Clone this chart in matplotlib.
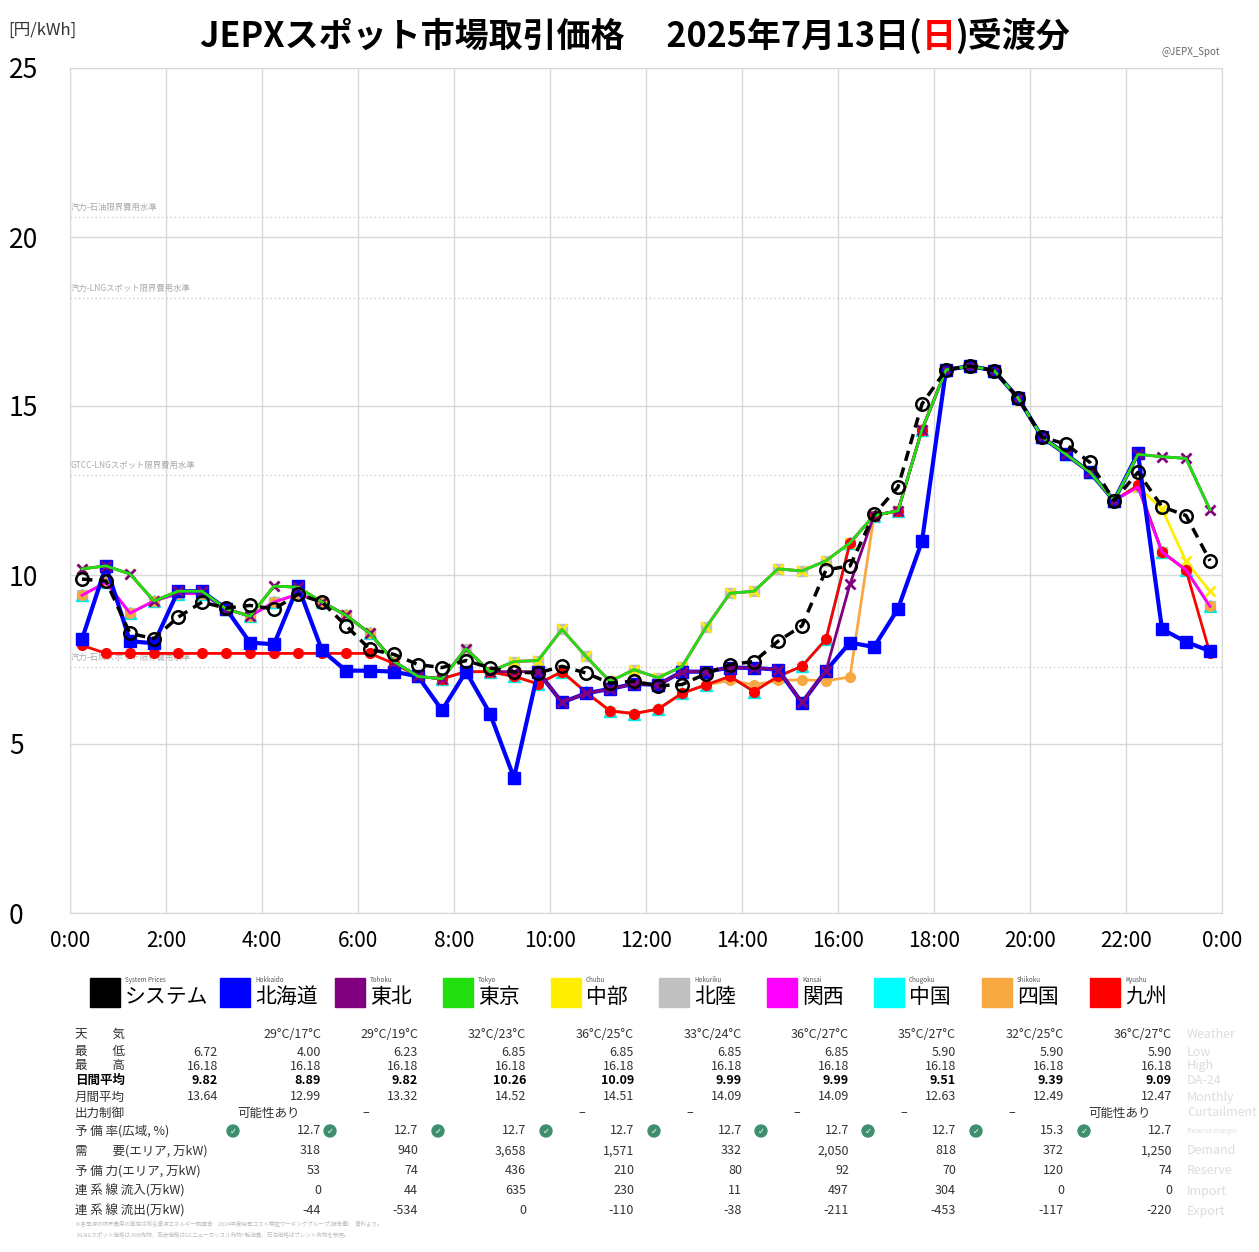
import matplotlib
matplotlib.use("Agg")
import matplotlib.pyplot as plt
from matplotlib.patches import Rectangle, Circle

JP = "Noto Sans CJK JP"
plt.rcParams["font.family"] = JP

hours = [(i + 0.5) / 2 for i in range(48)]

system = [9.88,9.82,8.27,8.12,8.75,9.20,9.02,9.10,8.99,9.43, 9.20,8.50,7.80,7.65,7.35,7.26,7.47,7.25,7.13,7.10,
          7.30,7.10,6.80,6.86,6.72,6.76,7.08,7.35,7.44,8.04, 8.50,10.15,10.27,11.79,12.60,15.06,16.07,16.18,16.05,15.24,
          14.08,13.87,13.33,12.20,13.04,12.02,11.76,10.42]
hokkaido = [8.10,10.27,8.04,7.98,9.52,9.52,9.00,8.00,7.95,9.67, 7.77,7.17,7.17,7.14,7.00,6.00,7.14,5.90,4.00,7.14,
            6.23,6.50,6.63,6.78,6.75,7.14,7.14,7.26,7.25,7.20, 6.22,7.17,8.00,7.87,9.00,11.00,16.07,16.18,16.05,15.24,
            14.08,13.57,13.04,12.20,13.60,8.40,8.02,7.75]
tohoku = [10.18,10.27,10.03,9.23,9.52,9.52,9.00,8.78,9.67,9.64, 9.20,8.81,8.27,7.44,7.00,6.93,7.82,7.14,7.14,7.14,
          6.23,6.50,6.63,6.78,6.75,7.14,7.14,7.26,7.25,7.20, 6.23,7.17,9.73,11.76,11.90,14.30,16.07,16.18,16.05,15.24,
          14.08,13.57,13.04,12.20,13.57,13.50,13.45,11.93]
tokyo = [10.18,10.27,10.03,9.23,9.52,9.52,9.00,8.78,9.67,9.64, 9.20,8.81,8.27,7.44,7.00,6.93,7.82,7.14,7.44,7.47,
         8.39,7.59,6.85,7.20,6.96,7.29,8.45,9.46,9.52,10.18, 10.12,10.42,10.95,11.76,11.90,14.30,16.07,16.18,16.05,15.24,
         14.08,13.57,13.04,12.20,13.57,13.50,13.45,11.93]
chubu = [10.18,10.27,10.03,9.23,9.52,9.52,9.00,8.78,9.67,9.64, 9.20,8.81,8.27,7.44,7.00,6.93,7.82,7.14,7.44,7.47,
         8.39,7.59,6.85,7.20,6.96,7.29,8.45,9.46,9.52,10.18, 10.12,10.42,10.95,11.76,11.90,14.30,16.07,16.18,16.05,15.24,
         14.08,13.57,13.04,12.20,12.60,11.96,10.40,9.52]
hokuriku = [9.40,9.78,8.87,9.23,9.45,9.45,9.00,8.78,9.20,9.43, 9.20,8.81,8.27,7.44,7.00,6.93,7.82,7.14,7.44,7.47,
            8.39,7.59,6.85,7.20,6.96,7.29,8.45,9.46,9.52,10.18, 10.12,10.42,10.95,11.76,11.90,14.30,16.07,16.18,16.05,15.24,
            14.08,13.57,13.04,12.20,12.60,10.68,10.15,9.07]
kansai = [9.40,9.78,8.87,9.23,9.45,9.45,9.00,8.78,9.20,9.43, 9.20,8.81,8.27,7.44,7.00,6.93,7.82,7.14,7.44,7.47,
          8.39,7.59,6.85,7.20,6.96,7.29,8.45,9.46,9.52,10.18, 10.12,10.42,10.95,11.76,11.90,14.30,16.07,16.18,16.05,15.24,
          14.08,13.57,13.04,12.20,12.60,10.68,10.15,9.07]
chugoku = [9.40,9.78,8.87,9.23,9.45,9.45,9.00,8.78,9.20,9.43, 9.20,8.81,8.27,7.44,7.00,6.93,7.14,7.14,7.00,6.78,
           7.14,6.53,5.98,5.90,6.03,6.50,6.75,7.00,6.55,7.00, 7.30,8.10,10.95,11.76,11.90,14.30,16.07,16.18,16.05,15.24,
           14.08,13.57,13.04,12.20,12.65,10.68,10.15,9.07]
shikoku = [9.40,9.78,8.87,9.23,9.45,9.45,9.00,8.78,9.20,9.43, 9.20,8.81,8.27,7.44,7.00,6.93,7.14,7.14,7.00,6.78,
           7.14,6.53,5.98,5.90,6.03,6.50,6.75,6.88,6.75,6.88, 6.90,6.87,6.98,11.76,11.90,14.30,16.07,16.18,16.05,15.24,
           14.08,13.57,13.04,12.20,12.65,10.68,10.15,9.07]
kyushu = [7.92,7.68,7.68,7.68,7.68,7.68,7.68,7.68,7.68,7.68, 7.68,7.68,7.68,7.38,7.00,6.93,7.14,7.14,7.00,6.78,
          7.14,6.53,5.98,5.90,6.03,6.50,6.75,7.00,6.55,7.00, 7.30,8.10,10.95,11.76,11.90,14.30,16.07,16.18,16.05,15.24,
          14.08,13.57,13.04,12.20,12.65,10.68,10.15,7.68]

ref_levels = [20.6, 18.2, 12.96, 7.28]
ref_labels = ["汽力-石油限界費用水準", "汽力-LNGスポット限界費用水準", "GTCC-LNGスポット限界費用水準", "汽力-石炭スポット限界費用水準"]

x_ticks = [0, 2, 4, 6, 8, 10, 12, 14, 16, 18, 20, 22, 24]
x_labels = ["0:00","2:00","4:00","6:00","8:00","10:00","12:00","14:00","16:00","18:00","20:00","22:00","0:00"]
y_ticks = [0, 5, 10, 15, 20, 25]

area_jp = ["システム","北海道","東北","東京","中部","北陸","関西","中国","四国","九州"]
area_en = ["System Prices","Hokkaido","Tohoku","Tokyo","Chubu","Hokuriku","Kansai","Chugoku","Shikoku","Kyushu"]
colors = ["#000000","#0000ff","#800080","#22e010","#ffee00","#c0c0c0","#ff00ff","#00ffff","#f8a840","#ff0000"]

weather = ["", "29°C/17°C","29°C/19°C","32°C/23°C","36°C/25°C","33°C/24°C","36°C/27°C","35°C/27°C","32°C/25°C","36°C/27°C"]
low = ["6.72","4.00","6.23","6.85","6.85","6.85","6.85","5.90","5.90","5.90"]
high = ["16.18"] * 10
daily = ["9.82","8.89","9.82","10.26","10.09","9.99","9.99","9.51","9.39","9.09"]
monthly = ["13.64","12.99","13.32","14.52","14.51","14.09","14.09","12.63","12.49","12.47"]
curtail = ["", "可能性あり","–","","–","–","–","–","–","可能性あり"]
reserve_rate = ["", "12.7","12.7","12.7","12.7","12.7","12.7","12.7","15.3","12.7"]
demand = ["", "318","940","3,658","1,571","332","2,050","818","372","1,250"]
reserve = ["", "53","74","436","210","80","92","70","120","74"]
inflow = ["", "0","44","635","230","11","497","304","0","0"]
outflow = ["", "-44","-534","0","-110","-38","-211","-453","-117","-220"]

W, H = 1259, 1252
fig = plt.figure(figsize=(W/100, H/100), dpi=100)
def fy(y): return 1 - y / H
def fx(x): return x / W

ax = fig.add_axes([fx(70), fy(913), fx(1222) - fx(70), fy(68) - fy(913)])
ax.set_xlim(0, 24)
ax.set_ylim(0, 25)
ax.set_xticks(x_ticks)
ax.set_xticklabels(x_labels, fontsize=15)
ax.set_yticks(y_ticks)
ax.set_yticklabels([str(v) for v in y_ticks], fontsize=19)
ax.tick_params(axis="x", length=0, pad=12)
ax.tick_params(axis="y", length=0, pad=44)
for lab in ax.get_yticklabels():
    lab.set_horizontalalignment("left")
ax.grid(True, color="#d8d8d8", lw=1)
for s in ax.spines.values():
    s.set_color("#d8d8d8")
for lv, lb in zip(ref_levels, ref_labels):
    ax.axhline(lv, color="#cccccc", ls=(0, (1, 2)), lw=1)
    ax.text(0.02, lv + 0.15, lb, fontsize=6, color="#aaaaaa", va="bottom")

ax.plot(hours, hokuriku, color="#c0c0c0", lw=2, marker="s", ms=7, zorder=2)
ax.plot(hours, chugoku, color="#00e8e8", lw=2, marker="^", ms=8, zorder=2)
ax.plot(hours, shikoku, color="#f8a840", lw=2, marker="o", ms=7, zorder=3)
ax.plot(hours, chubu, color="#ffee00", lw=2, marker="x", ms=7, mew=2, zorder=3)
ax.plot(hours, kyushu, color="#ff0000", lw=2, marker="o", ms=7, zorder=4)
ax.plot(hours, kansai, color="#ff00ff", lw=2, zorder=4)
ax.plot(hours, hokkaido, color="#0000ff", lw=3, marker="s", ms=8, zorder=5)
ax.plot(hours, tohoku, color="#800080", lw=2, marker="x", ms=7, mew=2, zorder=5)
ax.plot(hours, tokyo, color="#22e010", lw=2, zorder=6)
ax.plot(hours, system, color="black", lw=2.5, ls=(0, (3, 2)), marker="o", ms=9,
        mfc="none", mew=1.8, zorder=7)

# title
fig.text(fx(8), fy(30), "[円/kWh]", fontsize=12, color="#333333", va="center")
renderer = fig.canvas.get_renderer()
xpos = 200
for part, col in [("JEPXスポット市場取引価格　 2025年7月13日(", "black"), ("日", "red"), (")受渡分", "black")]:
    t = fig.text(fx(xpos), fy(36), part, fontsize=24.5, fontweight="bold", va="center", color=col)
    bb = t.get_window_extent(renderer=renderer)
    xpos += bb.width
fig.text(fx(1220), fy(52), "@JEPX_Spot", fontsize=7, color="#666666", ha="right", va="center")

# legend
leg_x = [90, 220, 335, 443, 551, 659, 767, 874, 982, 1090]
for x0, jp, en, c in zip(leg_x, area_jp, area_en, colors):
    fig.patches.append(Rectangle((fx(x0), fy(1007)), fx(30), fy(978) - fy(1007), transform=fig.transFigure,
                                 color=c, zorder=5))
    fig.text(fx(x0 + 35), fy(980), en, fontsize=4.5, color="#555555", va="center")
    fig.text(fx(x0 + 35), fy(997), jp, fontsize=15, va="center")

# table
row_y = [1034, 1052, 1066, 1080, 1097, 1113, 1131, 1151, 1171, 1191, 1211]
row_lbl = ["天　　気","最　　低","最　　高","日間平均","月間平均","出力制御","予 備 率(広域, %)",
           "需　　要(エリア, 万kW)","予 備 力(エリア, 万kW)","連 系 線 流入(万kW)","連 系 線 流出(万kW)"]
row_en = ["Weather","Low","High","DA-24","Monthly","Curtailment","Reserve margin","Demand","Reserve","Import","Export"]
rows = [weather, low, high, daily, monthly, curtail, reserve_rate, demand, reserve, inflow, outflow]
col_r = [218, 321, 418, 526, 634, 742, 849, 956, 1064, 1172]
for y, lb, en, vals in zip(row_y, row_lbl, row_en, rows):
    bold = lb == "日間平均"
    fig.text(fx(75), fy(y), lb, fontsize=9, va="center", fontweight="bold" if bold else "normal",
             color="black" if bold else "#333333")
    fig.text(fx(1187), fy(y), en, fontsize=9 if en != "Reserve margin" else 5, va="center", color="#dddddd")
    for xr, v in zip(col_r, vals):
        if not v:
            continue
        if lb == "出力制御":
            fig.text(fx(xr - 52), fy(y), v, fontsize=9, ha="center", va="center", color="#333333")
        else:
            fig.text(fx(xr), fy(y), v, fontsize=9, ha="right", va="center",
                     fontweight="bold" if bold else "normal", color="black" if bold else "#333333")
for xr, v in zip(col_r, reserve_rate):
    if v:
        fig.patches.append(Circle((fx(xr - 88), fy(1131)), 6 / W, transform=fig.transFigure, color="#3f8f6f"))
        fig.text(fx(xr - 88), fy(1131), "✓", fontsize=6, color="white", ha="center", va="center",
                 fontfamily="DejaVu Sans")
fig.text(fx(75), fy(1224), "※各電源の限界費用の算定は総合資源エネルギー調査会　2024年度発電コスト検証ワーキンググループ(報告書)　資料より。",
         fontsize=4, color="#bbbbbb", va="center")
fig.text(fx(75), fy(1235), "※LNGスポット価格はJKM先物、石炭価格はGCニューカッスル先物+輸送費、石油価格はブレント先物を参照。",
         fontsize=4, color="#bbbbbb", va="center")

fig.savefig("out.png", dpi=100)
